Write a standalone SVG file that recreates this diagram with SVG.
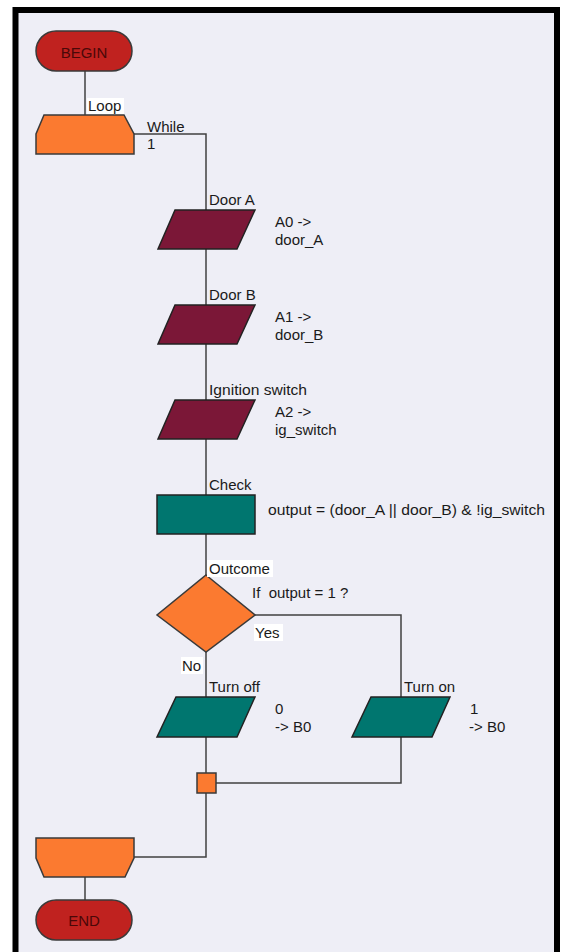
<svg xmlns="http://www.w3.org/2000/svg" width="563" height="952" viewBox="0 0 563 952">
<style>
text{font-family:"Liberation Sans",Arial,sans-serif;font-size:15px;fill:#1a1a1a}
.term{fill:#C0221F;stroke:#3a3a3a;stroke-width:1.5}
.loop{fill:#FB7A30;stroke:#3a3a3a;stroke-width:1.5}
.io{fill:#7B1737;stroke:#222;stroke-width:1.5}
.teal{fill:#00766F;stroke:#222;stroke-width:1.5}
.tt{fill:#4a0808;font-size:15px}
.lbg{fill:#ffffff}
.conn{fill:none;stroke:#404040;stroke-width:1.5}
</style>
<rect x="0" y="0" width="563" height="952" fill="#ffffff"/>
<rect x="15.5" y="10" width="541.5" height="950" fill="#EEEEF6" stroke="#000" stroke-width="6"/>
<g id="connectors">
<path class="conn" d="M85 71V115"/>
<path class="conn" d="M134 134H206V210"/>
<path class="conn" d="M206 249V305"/>
<path class="conn" d="M206 344V400"/>
<path class="conn" d="M206 439V495"/>
<path class="conn" d="M206 534V575"/>
<path class="conn" d="M206 652V697"/>
<path class="conn" d="M255 615H401V697"/>
<path class="conn" d="M206 737V773"/>
<path class="conn" d="M401 737V783H216"/>
<path class="conn" d="M206 793V857H134"/>
<path class="conn" d="M85 877V900"/>
</g>
<g id="begin">
<rect class="term" x="36" y="31" width="96" height="40" rx="20"/>
<text class="tt" x="84" y="58" text-anchor="middle">BEGIN</text>
</g>
<g id="loop">
<polygon class="loop" points="44,115 124,115 134,134 134,154 36,154 36,134"/>
<rect class="lbg" x="87" y="98" width="37" height="16"/>
<text x="88" y="111">Loop</text>
<text x="147" y="132">While</text>
<text x="147" y="149">1</text>
</g>
<g id="doorA">
<polygon class="io" points="175,210 255,210 237,249 158,249"/>
<text x="209" y="205">Door A</text>
<text x="275" y="227">A0 -&gt;</text>
<text x="275" y="245">door_A</text>
</g>
<g id="doorB">
<polygon class="io" points="175,305 255,305 237,344 158,344"/>
<text x="209" y="300">Door B</text>
<text x="275" y="322">A1 -&gt;</text>
<text x="275" y="340">door_B</text>
</g>
<g id="ignition">
<polygon class="io" points="175,400 255,400 237,439 158,439"/>
<text x="209" y="395" textLength="98" lengthAdjust="spacingAndGlyphs">Ignition switch</text>
<text x="275" y="417">A2 -&gt;</text>
<text x="275" y="435">ig_switch</text>
</g>
<g id="check">
<rect class="teal" x="157" y="495" width="98" height="39"/>
<text x="209" y="490">Check</text>
<text x="268" y="515" textLength="277" lengthAdjust="spacingAndGlyphs">output = (door_A || door_B) &amp; !ig_switch</text>
</g>
<g id="outcome">
<polygon class="loop" points="206,575 255,615 206,652 157,615"/>
<rect class="lbg" x="207" y="560" width="66" height="17"/>
<text x="209" y="574">Outcome</text>
<text x="252" y="598" xml:space="preserve">If  output = 1 ?</text>
<rect class="lbg" x="254" y="624" width="29" height="17"/>
<text x="255" y="638">Yes</text>
<rect class="lbg" x="181" y="657" width="22" height="17"/>
<text x="182" y="671">No</text>
</g>
<g id="turnoff">
<polygon class="teal" points="176,697 255,697 237,737 157,737"/>
<text x="209" y="692">Turn off</text>
<text x="275" y="714">0</text>
<text x="275" y="732">-&gt; B0</text>
</g>
<g id="turnon">
<polygon class="teal" points="371,697 450,697 432,737 352,737"/>
<text x="404" y="692">Turn on</text>
<text x="470" y="714">1</text>
<text x="469" y="732">-&gt; B0</text>
</g>
<g id="junction">
<rect class="loop" x="197" y="773" width="19" height="20"/>
</g>
<g id="loopend">
<polygon class="loop" points="36,838 134,838 134,858 125,877 44,877 36,858"/>
</g>
<g id="end">
<rect class="term" x="36" y="900" width="96" height="40" rx="20"/>
<text class="tt" x="84" y="926" text-anchor="middle">END</text>
</g>
</svg>
